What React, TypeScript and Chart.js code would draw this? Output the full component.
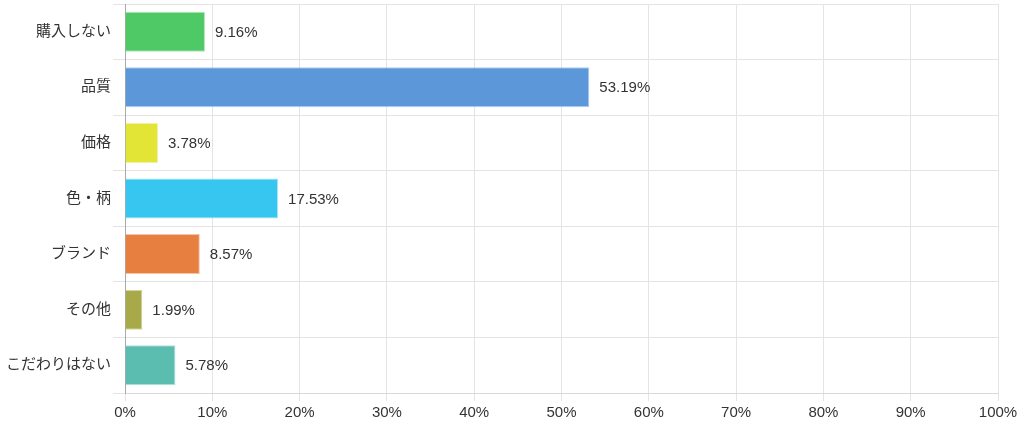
import React, { useEffect, useRef } from 'react';
import { Chart, registerables, Plugin } from 'chart.js';

Chart.register(...registerables);

const categories = ['購入しない', '品質', '価格', '色・柄', 'ブランド', 'その他', 'こだわりはない'];
const shares = [9.16, 53.19, 3.78, 17.53, 8.57, 1.99, 5.78];
const barColors = ['#4fc866', '#5b97d9', '#e2e535', '#36c6f0', '#e77f41', '#a8aa4a', '#5bbcb0'];

const FONT = "'Liberation Sans', Arial, 'Noto Sans CJK JP', sans-serif";

// valeurs à droite des barres
const valueLabels: Plugin<'bar'> = {
  id: 'valueLabels',
  afterDatasetsDraw(chart) {
    const ctx = chart.ctx;
    const meta = chart.getDatasetMeta(0);
    ctx.save();
    ctx.font = `15px ${FONT}`;
    ctx.fillStyle = '#333';
    ctx.textAlign = 'left';
    ctx.textBaseline = 'middle';
    meta.data.forEach((bar, i) => {
      ctx.fillText(`${shares[i].toFixed(2)}%`, bar.x + 10, bar.y + 1);
    });
    ctx.restore();
  },
};

export default function App() {
  const chartRef = useRef<HTMLCanvasElement>(null);
  const chartInstance = useRef<Chart | null>(null);

  useEffect(() => {
    document.body.style.margin = '0';
    if (!chartRef.current) return;
    if (chartInstance.current) chartInstance.current.destroy();

    chartInstance.current = new Chart(chartRef.current, {
      type: 'bar',
      data: {
        labels: categories,
        datasets: [
          {
            data: shares,
            backgroundColor: barColors,
            borderColor: barColors.map(c => c + '77'),
            borderWidth: 1,
          },
        ],
      },
      options: {
        indexAxis: 'y',
        animation: false,
        responsive: false,
        layout: { padding: { top: 0, right: 26, left: 4, bottom: 1 } },
        plugins: {
          legend: { display: false },
          tooltip: { enabled: false },
        },
        scales: {
          x: {
            min: 0,
            max: 100,
            grid: { color: '#e4e4e4', tickLength: 8 },
            border: { color: '#d8d8d8' },
            ticks: {
              stepSize: 10,
              color: '#333',
              padding: 3,
              font: { size: 15, family: FONT },
              callback: (v) => `${v}%`,
            },
          },
          y: {
            grid: { color: '#e4e4e4', tickLength: 12 },
            border: { color: '#aaa' },
            ticks: {
              color: '#333',
              padding: 2,
              font: { size: 15, family: FONT },
            },
          },
        },
      },
      plugins: [valueLabels],
    });

    return () => {
      if (chartInstance.current) chartInstance.current.destroy();
    };
  }, []);

  return (
    <div style={{ width: 1024, height: 426, overflow: 'hidden' }}>
      <canvas ref={chartRef} width={1024} height={433} style={{ display: 'block', marginTop: -7 }} />
    </div>
  );
}
